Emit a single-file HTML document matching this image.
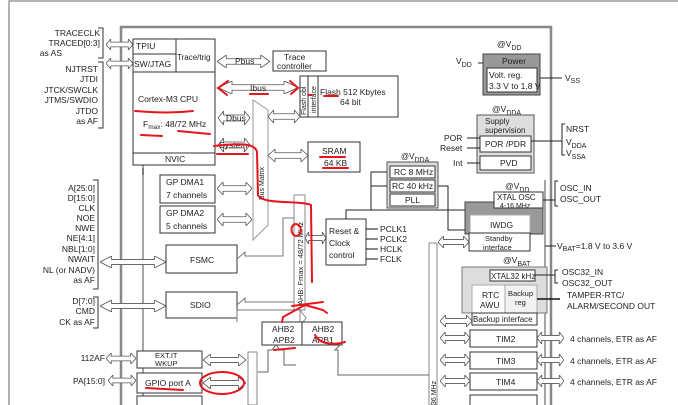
<!DOCTYPE html>
<html><head><style>
html,body{margin:0;padding:0;background:#fff;}
svg{display:block;font-family:"Liberation Sans",sans-serif;}
text{font-size:8.5px;fill:#222;}
.b{fill:#fff;stroke:#333;stroke-width:1;}
.g{fill:#fff;stroke:#777;stroke-width:1;}
.r{fill:none;stroke:#e8141b;stroke-width:2;stroke-linecap:round;}
.ar{fill:#fff;stroke:#555;stroke-width:0.8;}
</style></head><body>
<svg width="678" height="405" viewBox="0 0 678 405" xmlns="http://www.w3.org/2000/svg">
<defs>
<symbol id="dh" viewBox="0 0 40 14" preserveAspectRatio="none"><polygon points="0,7 7,0 7,4 33,4 33,0 40,7 33,14 33,10 7,10 7,14" fill="#fff" stroke="#555" stroke-width="0.8" vector-effect="non-scaling-stroke"/></symbol>
</defs>
<!-- outer frame -->
<polyline points="9,405 9,1 678,1" fill="none" stroke="#999" stroke-width="1.5"/>
<!-- chip border -->
<polyline points="121,405 121,27 551,27 551,405" fill="none" stroke="#888" stroke-width="2.5"/>
<line x1="143" y1="165" x2="143" y2="405" stroke="#888" stroke-width="1.5"/>
<line x1="121" y1="165" x2="121" y2="405" stroke="#888" stroke-width="1.5"/>
<line x1="545" y1="180" x2="545" y2="405" stroke="#888" stroke-width="1.5"/>

<!-- left labels -->
<g text-anchor="end">
<text x="100" y="36">TRACECLK</text><text x="100" y="46">TRACED[0:3]</text><text x="62" y="56">as AS</text>
<text x="98" y="72">NJTRST</text><text x="98" y="82">JTDI</text><text x="98" y="93">JTCK/SWCLK</text><text x="98" y="103">JTMS/SWDIO</text><text x="98" y="114">JTDO</text><text x="98" y="124">as AF</text>
<text x="95" y="191">A[25:0]</text><text x="95" y="201">D[15:0]</text><text x="95" y="211">CLK</text><text x="95" y="221">NOE</text><text x="95" y="231">NWE</text><text x="95" y="241">NE[4:1]</text><text x="95" y="252">NBL[1:0]</text><text x="95" y="262">NWAIT</text><text x="95" y="273">NL (or NADV)</text><text x="95" y="283">as AF</text>
<text x="95" y="304">D[7:0]</text><text x="95" y="314">CMD</text><text x="95" y="325">CK as AF</text>
<text x="105" y="361">112AF</text><text x="105" y="384">PA[15:0]</text>
</g>
<polyline points="98,28 103,28 103,58 98,58" fill="none" stroke="#333"/>
<polyline points="98,62 103,62 103,128 98,128" fill="none" stroke="#333"/>
<polyline points="93,180 98,180 98,289 93,289" fill="none" stroke="#333"/>
<polyline points="93,297 98,297 98,328 93,328" fill="none" stroke="#333"/>
<use href="#dh" x="106" y="39" width="27" height="11"/>
<use href="#dh" x="106" y="58" width="27" height="11"/>
<use href="#dh" x="100" y="256" width="66" height="12"/>
<use href="#dh" x="100" y="300" width="66" height="12"/>
<use href="#dh" x="106" y="353" width="30" height="11"/>
<use href="#dh" x="108" y="375" width="28" height="11"/>

<!-- CPU -->
<rect class="b" x="133" y="39" width="82" height="126"/>
<line x1="133" y1="54" x2="176" y2="54" stroke="#333"/>
<line x1="133" y1="72" x2="215" y2="72" stroke="#333"/>
<line x1="176" y1="39" x2="176" y2="72" stroke="#333"/>
<line x1="133" y1="153" x2="215" y2="153" stroke="#333"/>
<text x="136" y="49">TPIU</text><text x="134" y="67">SW/JTAG</text><text x="177" y="60" style="font-size:8px">Trace/trig</text>
<text x="138" y="102">Cortex-M3 CPU</text>
<text x="143" y="127">F<tspan font-size="6.5" dy="2">max</tspan><tspan dy="-2">: 48/72 MHz</tspan></text>
<text x="165" y="162">NVIC</text>
<line x1="143" y1="168" x2="143" y2="175" stroke="#333"/>

<use href="#dh" x="217" y="55" width="53" height="13"/><text x="235" y="64">Pbus</text>
<rect class="b" x="273" y="51" width="53" height="20"/><text x="284" y="60">Trace</text><text x="277" y="69">controller</text>
<use href="#dh" x="218" y="81" width="80" height="13"/><text x="250" y="91">Ibus</text>
<rect class="b" x="300" y="76" width="98" height="41"/><line x1="318" y1="76" x2="318" y2="117" stroke="#333"/>
<line x1="308" y1="76" x2="308" y2="117" stroke="#333"/>
<text x="320" y="95">Flash 512 Kbytes</text><text x="340" y="105">64 bit</text>
<text transform="translate(306,115) rotate(-90)" style="font-size:7px">Flash obl</text>
<text transform="translate(316,113) rotate(-90)" style="font-size:7px">interface</text>
<use href="#dh" x="218" y="111" width="32" height="14"/><text x="226" y="121">Dbus</text>
<use href="#dh" x="218" y="138" width="32" height="14"/><text x="219" y="148">System</text>
<!-- bus matrix -->
<polygon points="253,100 268,110 268,225 253,240" fill="#fff" stroke="#999"/>
<text transform="translate(264,200) rotate(-90)" style="font-size:7px">Bus Matrix</text>
<use href="#dh" x="268" y="110" width="32" height="13"/>
<use href="#dh" x="268" y="149" width="40" height="13"/>
<rect class="b" x="308" y="142" width="52" height="30"/><text x="322" y="154">SRAM</text><text x="324" y="166">64 KB</text>
<rect class="b" x="160" y="175" width="55" height="28"/><text x="166" y="185">GP DMA1</text><text x="166" y="198">7 channels</text>
<rect class="b" x="160" y="206" width="55" height="27"/><text x="166" y="216">GP DMA2</text><text x="166" y="229">5 channels</text>
<use href="#dh" x="217" y="182" width="35" height="13"/>
<use href="#dh" x="217" y="213" width="35" height="13"/>
<rect class="b" x="166" y="245" width="71" height="28"/><text x="190" y="263">FSMC</text>
<rect class="b" x="166" y="292" width="71" height="26"/><text x="190" y="308">SDIO</text>
<polyline points="237,259 245,252 245,256 283,256 283,218 294,218" fill="none" stroke="#777"/>
<polyline points="237,305 245,298 245,302 294,302" fill="none" stroke="#777"/>
<!-- AHB strip -->
<rect x="294" y="195" width="11" height="115" fill="#fff" stroke="#888"/>
<text transform="translate(303,305) rotate(-90)" style="font-size:7.5px">AHB: Fmax = 48/72 MHz</text>
<polygon points="300,310 306,318 300,326" fill="#fff" stroke="#888"/>
<use href="#dh" x="305" y="232" width="21" height="12"/>
<!-- Reset clock -->
<rect class="b" x="326" y="219" width="40" height="46"/><text x="329" y="234">Reset &amp;</text><text x="329" y="246">Clock</text><text x="329" y="258">control</text>
<g style="font-size:8px"><text x="380" y="232">PCLK1</text><text x="380" y="242">PCLK2</text><text x="380" y="252">HCLK</text><text x="380" y="262">FCLK</text></g>
<g stroke="#111"><line x1="366" y1="229" x2="378" y2="229"/><line x1="366" y1="239" x2="378" y2="239"/><line x1="366" y1="249" x2="378" y2="249"/><line x1="366" y1="259" x2="378" y2="259"/></g>
<polyline points="346,219 346,210 470,210 470,227" fill="none" stroke="#222"/>
<!-- RC -->
<text x="401" y="159" style="font-size:8px">@V<tspan font-size="7" dy="3">DDA</tspan></text>
<rect x="387" y="162" width="51" height="46" fill="#ddd" stroke="#555"/>
<rect class="b" x="390" y="166" width="45" height="12"/><text x="394" y="175">RC 8 MHz</text>
<rect class="b" x="390" y="180" width="45" height="12"/><text x="392" y="189">RC 40 kHz</text>
<rect class="b" x="390" y="194" width="45" height="12"/><text x="405" y="203">PLL</text>
<polyline points="387,172 371,172 371,210" fill="none" stroke="#222"/>
<line x1="371" y1="186" x2="387" y2="186" stroke="#222"/>
<polyline points="438,186 448,186 448,230 465,230" fill="none" stroke="#222"/>
<!-- power -->
<text x="497" y="47">@V<tspan font-size="7" dy="3">DD</tspan></text>
<text x="456" y="64">V<tspan font-size="7" dy="3">DD</tspan></text>
<line x1="478" y1="63" x2="483" y2="63" stroke="#222"/>
<rect x="483" y="54" width="57" height="41" fill="#999" stroke="#444"/>
<text x="502" y="64">Power</text>
<rect class="b" x="487" y="68" width="50" height="24"/><text x="489" y="78">Volt. reg.</text><text x="489" y="89">3.3 V to 1.8 V</text>
<line x1="540" y1="78" x2="562" y2="78" stroke="#222"/><text x="565" y="81">V<tspan font-size="7" dy="2">SS</tspan></text>
<text x="492" y="112">@V<tspan font-size="7" dy="3">DDA</tspan></text>
<rect x="477" y="115" width="57" height="58" fill="#ddd" stroke="#555"/>
<text x="485" y="124" style="font-size:8px">Supply</text><text x="485" y="133" style="font-size:8px">supervision</text>
<rect class="b" x="480" y="136" width="51" height="16"/><text x="485" y="147">POR /PDR</text>
<rect class="b" x="480" y="156" width="51" height="14"/><text x="500" y="166">PVD</text>
<text x="444" y="141">POR</text><text x="440" y="151">Reset</text><text x="453" y="166">Int</text>
<g stroke="#222"><line x1="467" y1="138" x2="480" y2="138"/><line x1="467" y1="148" x2="480" y2="148"/><line x1="467" y1="163" x2="480" y2="163"/>
<line x1="531" y1="141" x2="562" y2="141"/></g>
<polyline points="565,124 562,124 562,155 565,155" fill="none" stroke="#222"/>
<text x="566" y="132">NRST</text><text x="566" y="145">V<tspan font-size="7" dy="3">DDA</tspan></text><text x="566" y="156">V<tspan font-size="7" dy="3">SSA</tspan></text>
<!-- XTAL / IWDG -->
<text x="505" y="189">@V<tspan font-size="7" dy="3">DD</tspan></text>
<rect x="465" y="202" width="78" height="32" fill="#999" stroke="#444"/>
<rect class="b" x="494" y="192" width="49" height="16"/><text x="497" y="200" style="font-size:8px">XTAL OSC</text><text x="500" y="208" style="font-size:7px">4-16 MHz</text>
<rect x="470" y="215" width="60" height="18" fill="#fff" stroke="#aaa"/><text x="490" y="228">IWDG</text>
<rect class="b" x="469" y="233" width="61" height="18"/><text x="485" y="241" style="font-size:7.5px">Standby</text><text x="483" y="250" style="font-size:7.5px">interface</text>
<polyline points="558,181 555,181 555,206 558,206" fill="none" stroke="#222"/>
<line x1="543" y1="200" x2="555" y2="200" stroke="#222"/>
<text x="560" y="191">OSC_IN</text><text x="560" y="202">OSC_OUT</text>
<use href="#dh" x="438" y="236" width="31" height="12"/>
<line x1="545" y1="246" x2="556" y2="246" stroke="#222"/>
<text x="557" y="249">V<tspan font-size="7" dy="2">BAT</tspan><tspan dy="-2">=1.8 V to 3.6 V</tspan></text>
<text x="503" y="263">@V<tspan font-size="7" dy="3">BAT</tspan></text>
<!-- backup -->
<rect x="462" y="267" width="85" height="46" fill="#ddd" stroke="#777"/>
<rect class="b" x="490" y="270" width="45" height="11"/><text x="491" y="279" style="font-size:8px">XTAL32 kHz</text>
<rect x="472" y="285" width="33" height="28" fill="#fff" stroke="#aaa"/><text x="482" y="298">RTC</text><text x="480" y="308">AWU</text>
<rect x="505" y="285" width="32" height="28" fill="#f2f2f2" stroke="#aaa"/><text x="508" y="296" style="font-size:7.5px">Backup</text><text x="515" y="305" style="font-size:7.5px">reg</text>
<rect class="b" x="472" y="313" width="65" height="12"/><text x="473" y="322" style="font-size:8px">Backup interface</text>
<polyline points="558,270 555,270 555,283 558,283" fill="none" stroke="#222"/><line x1="535" y1="275" x2="555" y2="275" stroke="#222"/>
<text x="562" y="275">OSC32_IN</text><text x="562" y="286">OSC32_OUT</text>
<line x1="537" y1="299" x2="560" y2="299" stroke="#111" stroke-width="1.5"/>
<text x="567" y="298">TAMPER-RTC/</text><text x="567" y="309">ALARM/SECOND OUT</text>
<!-- APB1 strip -->
<rect x="429" y="243" width="8" height="162" fill="#fff" stroke="#888"/>
<use href="#dh" x="440" y="315" width="32" height="12"/>
<g>
<rect class="b" x="470" y="330" width="67" height="17"/><text x="496" y="342">TIM2</text>
<rect class="b" x="470" y="352" width="67" height="17"/><text x="496" y="364">TIM3</text>
<rect class="b" x="470" y="373" width="67" height="17"/><text x="496" y="385">TIM4</text>
<rect class="b" x="470" y="395" width="67" height="17"/>
<use href="#dh" x="440" y="332" width="30" height="12"/><use href="#dh" x="440" y="354" width="30" height="12"/><use href="#dh" x="440" y="375" width="30" height="12"/>
<use href="#dh" x="537" y="332" width="27" height="12"/><use href="#dh" x="537" y="354" width="27" height="12"/><use href="#dh" x="537" y="375" width="27" height="12"/>
<text x="570" y="342">4 channels, ETR as AF</text><text x="570" y="364">4 channels, ETR as AF</text><text x="570" y="385">4 channels, ETR as AF</text>
</g>
<text transform="translate(436,405) rotate(-90)" style="font-size:7px">36 MHz</text>
<!-- AHB2 APB -->
<rect class="b" x="262" y="322" width="80" height="23"/><line x1="302" y1="322" x2="302" y2="345" stroke="#333"/>
<text x="272" y="332">AHB2</text><text x="273" y="343">APB2</text><text x="312" y="332">AHB2</text><text x="312" y="343">APB1</text>
<polyline points="237,322 237,310 294,310" fill="none" stroke="#777"/>
<polyline points="258,372 268,372 268,350 272,350 276,345 280,350 284,350 284,365 296,365" fill="none" stroke="#666"/>
<polyline points="340,345 335,350 338,350 338,375 429,375" fill="none" stroke="#666"/>
<!-- APB2 strip -->
<rect x="248" y="352" width="9" height="53" fill="#fff" stroke="#888"/>
<rect class="b" x="137" y="351" width="65" height="17"/><text x="155" y="358" style="font-size:7.5px">EXT.IT</text><text x="155" y="366" style="font-size:7.5px">WKUP</text>
<rect class="b" x="137" y="373" width="65" height="20"/><text x="145" y="386">GPIO port A</text>
<rect class="b" x="137" y="396" width="65" height="12"/>
<use href="#dh" x="203" y="354" width="43" height="12"/>
<use href="#dh" x="203" y="377" width="43" height="12"/>

<!-- red annotations -->
<path class="r" d="M228,81 L218,88 L227,95"/><path class="r" d="M290,81 L298,88 L291,94"/>
<path class="r" d="M250,94 L268,94"/>
<path class="r" d="M135,111 C160,113 175,113 193,111"/>
<path class="r" d="M141,135 L162,136 M178,131 L210,134"/>
<path class="r" d="M214,146 C240,143 255,143 257,152 L258,195 C262,205 300,200 311,205 L312,282"/>
<path class="r" d="M217,154 L248,154"/>
<path class="r" d="M320,157 L345,157 M323,168 L348,168"/>
<path class="r" d="M309,95 L312,95 M324,96 L338,96"/>
<path class="r" d="M296,224 C290,224 290,235 296,236 C302,236 303,225 296,224"/>
<path class="r" d="M292,306 L323,302 M305,305 L283,317 L282,322 M305,305 L323,310 L327,313"/>
<path class="r" d="M274,350 L295,348 M315,335 C320,345 335,345 345,342"/>
<path class="r" d="M146,388 L183,390"/>
<ellipse class="r" cx="222" cy="383" rx="22" ry="11"/>
</svg>
</body></html>
